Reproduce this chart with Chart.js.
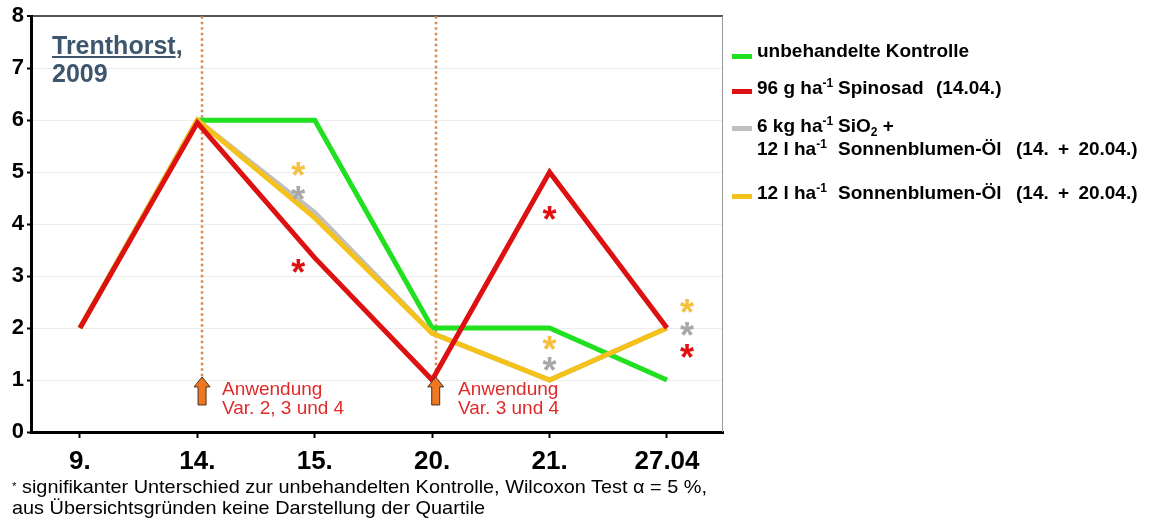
<!DOCTYPE html>
<html><head><meta charset="utf-8">
<script src="https://cdn.jsdelivr.net/npm/chart.js@4/dist/chart.umd.min.js"></script>
<style>
html,body{margin:0;padding:0;background:#fff;}
#wrap{position:relative;width:1153px;height:520px;overflow:hidden;}
canvas{position:absolute;left:0;top:0;}
.t{position:absolute;white-space:nowrap;transform-origin:0 50%;}
.lg{font:bold 19px "Liberation Sans",Arial,sans-serif;color:#000;}
.lg sup{font-size:12px;position:relative;top:-1px;vertical-align:top;}
.lg sub{font-size:12px;vertical-align:-4px;}
.ws{word-spacing:4px;}
.mk{position:absolute;width:20px;height:5px;}
.ann{font:19px "Liberation Sans",Arial,sans-serif;color:#e02a2a;line-height:19px;}
.fn{font:19px "Liberation Sans",Arial,sans-serif;color:#000;line-height:21px;display:block;}
</style></head>
<body><div id="wrap">
<canvas id="c" width="1153" height="520"></canvas>
<div class="t" style="left:52px;top:31px;font:bold 25px 'Liberation Sans',Arial,sans-serif;color:#3d566e;line-height:28px;"><span style="text-decoration:underline;">Trenthorst</span>,<br>2009</div>

<div class="mk" style="left:732px;top:54px;background:#20e020"></div>
<div class="t lg" style="left:757px;top:40px;">unbehandelte Kontrolle</div>
<div class="mk" style="left:732px;top:89px;background:#dd1111"></div>
<div class="t lg" style="left:757px;top:77px;">96 g ha<sup>-1</sup></div>
<div class="t lg" style="left:838px;top:77px;">Spinosad</div>
<div class="t lg" style="left:936px;top:77px;">(14.04.)</div>
<div class="mk" style="left:732px;top:126px;background:#bfbfbf"></div>
<div class="t lg" style="left:757px;top:115px;">6 kg ha<sup>-1</sup></div>
<div class="t lg" style="left:838px;top:115px;">SiO<sub>2</sub> +</div>
<div class="t lg" style="left:757px;top:138px;">12 l ha<sup>-1</sup></div>
<div class="t lg" style="left:838px;top:138px;">Sonnenblumen-Öl</div>
<div class="t lg ws" style="left:1016px;top:138px;">(14. + 20.04.)</div>
<div class="mk" style="left:732px;top:194px;background:#f5c21c"></div>
<div class="t lg" style="left:757px;top:182px;">12 l ha<sup>-1</sup></div>
<div class="t lg" style="left:838px;top:182px;">Sonnenblumen-Öl</div>
<div class="t lg ws" style="left:1016px;top:182px;">(14. + 20.04.)</div>

<div class="t ann" style="left:222px;top:379px;">Anwendung<br>Var. 2, 3 und 4</div>
<div class="t ann" style="left:458px;top:379px;">Anwendung<br>Var. 3 und 4</div>

<div class="t" id="fnbox" style="left:12px;top:476px;">
<span class="fn" id="fn1"><span style="font-size:11px;vertical-align:top;">*</span> signifikanter Unterschied zur unbehandelten Kontrolle, Wilcoxon Test α = 5 %,</span>
<span class="fn" id="fn2">aus Übersichtsgründen keine Darstellung der Quartile</span>
</div>
</div>
<script>
const categories = ['9.', '14.', '15.', '20.', '21.', '27.04'];
const kontrolle = [2, 6, 6, 2, 2, 1];
const spinosad = [2, 5.95, 3.35, 1, 5, 2];
const sio2Oel = [2, 6, 4.22, 1.9, 1, 2];
const oel = [2, 6, 4.12, 1.9, 1, 2];
const yTicks = [0, 1, 2, 3, 4, 5, 6, 7, 8];
// significance asterisks (x in category index units, y in value units)
const astX = [1.86, 1.86, 1.86, 4.0, 4.0, 4.0, 5.17, 5.17, 5.17];
const astY = [5.08, 4.62, 3.21, 4.23, 1.74, 1.33, 2.44, 2.0, 1.58];
const astColor = ['#f5c040', '#a8a8a8', '#e01010', '#e01010', '#f5c040', '#a8a8a8', '#f5c040', '#a8a8a8', '#e01010'];
// application dates (category index) and arrow extent
const applX = [1.04, 3.03];
const arrowTop = 1.06, arrowBottom = 0.52;

const toXY = arr => arr.map((v, i) => ({x: i, y: v}));

const overlay = {
  id: 'overlay',
  beforeDatasetsDraw(chart) {
    const {ctx, scales: {x, y}, chartArea: a} = chart;
    ctx.save();
    ctx.strokeStyle = '#9a9a9a'; ctx.lineWidth = 1;
    ctx.beginPath(); ctx.moveTo(a.right - 0.5, a.top); ctx.lineTo(a.right - 0.5, a.bottom); ctx.stroke();
    ctx.strokeStyle = '#d98a50'; ctx.lineWidth = 2.5; ctx.setLineDash([2.5, 3]);
    applX.forEach(v => {
      const px = Math.round(x.getPixelForValue(v));
      ctx.beginPath(); ctx.moveTo(px, a.top); ctx.lineTo(px, y.getPixelForValue(arrowTop)); ctx.stroke();
    });
    ctx.restore();
  },
  afterDatasetsDraw(chart) {
    const {ctx, scales: {x, y}} = chart;
    ctx.save();
    applX.forEach(v => {
      const px = x.getPixelForValue(v);
      const t = y.getPixelForValue(arrowTop), b = y.getPixelForValue(arrowBottom);
      ctx.beginPath();
      ctx.moveTo(px, t);
      ctx.lineTo(px + 8, t + 10);
      ctx.lineTo(px + 4, t + 10);
      ctx.lineTo(px + 4, b);
      ctx.lineTo(px - 4, b);
      ctx.lineTo(px - 4, t + 10);
      ctx.lineTo(px - 8, t + 10);
      ctx.closePath();
      ctx.fillStyle = '#ee7722'; ctx.fill();
      ctx.strokeStyle = '#4a3020'; ctx.lineWidth = 1; ctx.stroke();
    });
    ctx.font = 'bold 36px "Liberation Sans", Arial, sans-serif';
    ctx.textAlign = 'center'; ctx.textBaseline = 'alphabetic';
    astX.forEach((v, i) => {
      ctx.fillStyle = astColor[i];
      ctx.fillText('*', x.getPixelForValue(v), y.getPixelForValue(astY[i]) + 20);
    });
    ctx.restore();
  }
};

new Chart(document.getElementById('c'), {
  type: 'line',
  data: {
    datasets: [
      {label: 'unbehandelte Kontrolle', data: toXY(kontrolle), borderColor: '#20e020', order: 4},
      {label: '96 g ha-1 Spinosad (14.04.)', data: toXY(spinosad), borderColor: '#dd1111', order: 1},
      {label: '6 kg ha-1 SiO2 + 12 l ha-1 Sonnenblumen-Öl (14. + 20.04.)', data: toXY(sio2Oel), borderColor: '#bfbfbf', order: 3},
      {label: '12 l ha-1 Sonnenblumen-Öl (14. + 20.04.)', data: toXY(oel), borderColor: '#f5c21c', order: 2}
    ]
  },
  options: {
    responsive: false,
    animation: false,
    devicePixelRatio: 1,
    elements: {line: {borderWidth: 5, tension: 0, borderJoinStyle: 'miter', borderCapStyle: 'butt'}, point: {radius: 0, hoverRadius: 0}},
    layout: {padding: {left: 0, top: 16, right: 430, bottom: 0}},
    plugins: {legend: {display: false}, tooltip: {enabled: false}},
    scales: {
      x: {
        type: 'linear', min: -0.417, max: 5.477,
        afterBuildTicks: s => { s.ticks = categories.map((c, i) => ({value: i})); },
        afterFit: s => { s.height = 88; },
        ticks: {
          callback: (v) => categories[v] ?? '',
          font: {family: '"Liberation Sans", Arial, sans-serif', size: 26, weight: 'bold'},
          color: '#000', padding: 8, maxRotation: 0, autoSkip: false
        },
        grid: {drawOnChartArea: false, tickLength: 6, tickColor: '#000', tickWidth: 2},
        border: {color: '#000', width: 3}
      },
      y: {
        min: 0, max: 8,
        afterBuildTicks: s => { s.ticks = yTicks.map(v => ({value: v})); },
        afterFit: s => { s.width = 31; },
        ticks: {font: {family: '"Liberation Sans", Arial, sans-serif', size: 22, weight: 'bold'}, color: '#000', padding: 3},
        grid: {
          color: c => c.tick && c.tick.value === 8 ? '#555' : '#ececec',
          lineWidth: c => c.tick && c.tick.value === 8 ? 2 : 1,
          tickLength: 4, tickColor: '#000', tickWidth: 2
        },
        border: {color: '#000', width: 3}
      }
    }
  },
  plugins: [overlay]
});

// stretch footnote to the width it has in the original
const fn1 = document.getElementById('fn1');
const box = document.getElementById('fnbox');
fn1.style.display = 'inline-block';
const w = fn1.getBoundingClientRect().width;
fn1.style.display = 'block';
box.style.transformOrigin = '0 0';
box.style.transform = 'scaleX(' + (695 / w) + ')';
</script>
</body></html>
